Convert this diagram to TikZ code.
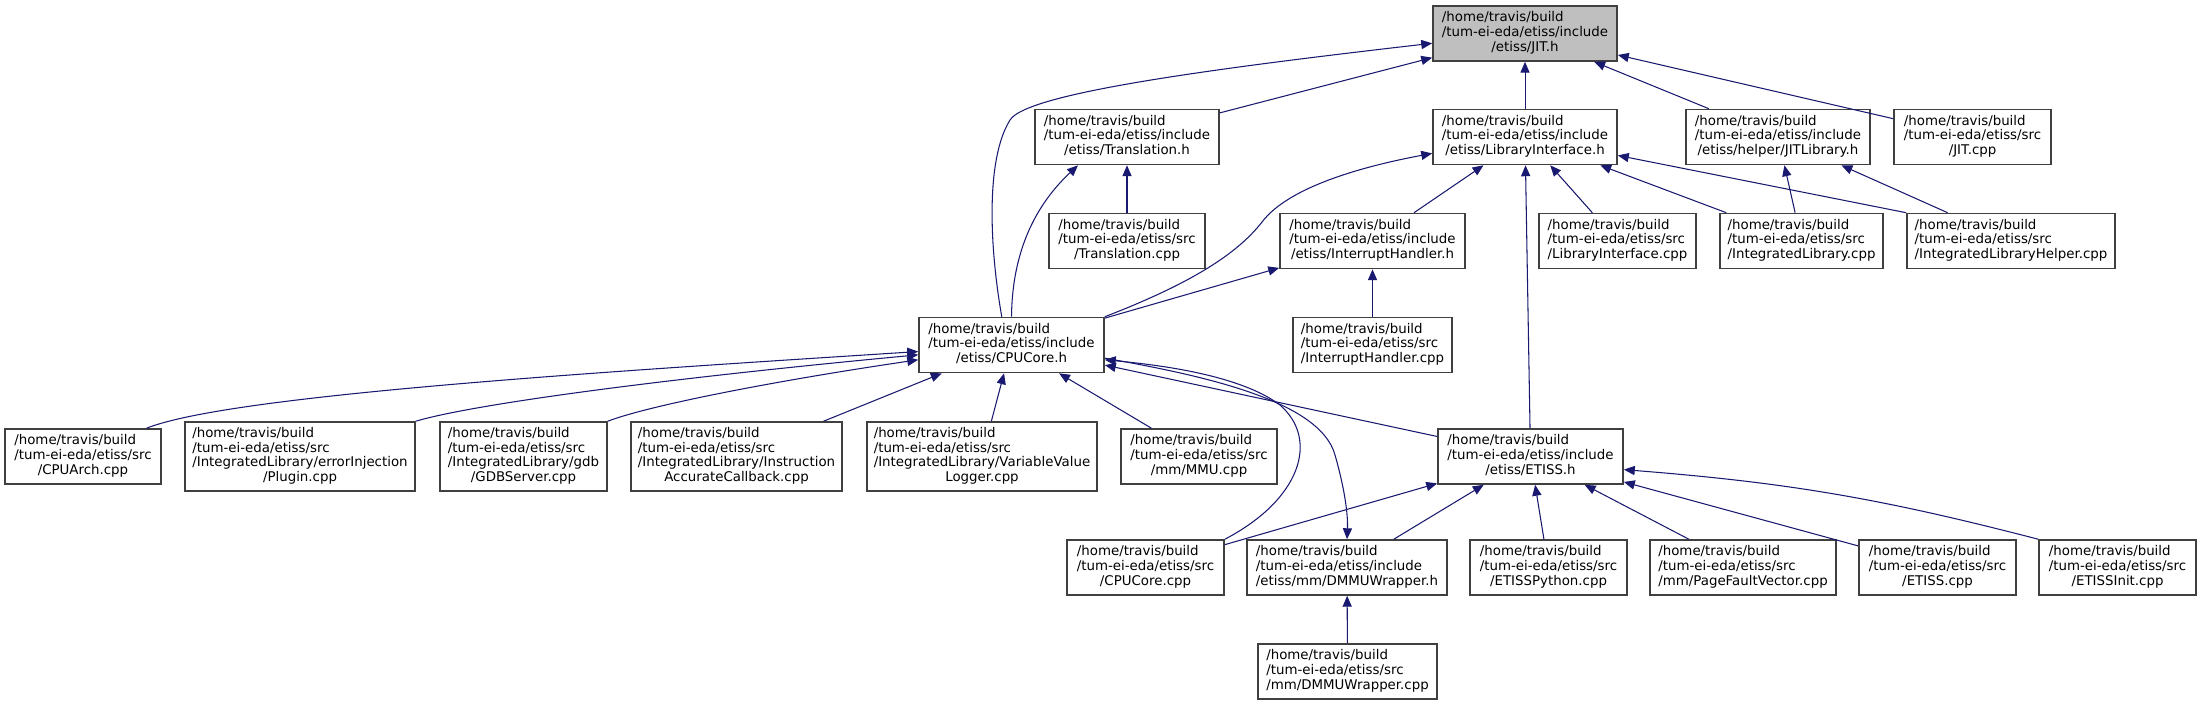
\documentclass[tikz,border=0pt]{standalone}
\usepackage{fontspec}
\setmainfont{DejaVu Sans}
\usepackage{tikz}
\usetikzlibrary{arrows.meta}
\definecolor{edgeBlue}{RGB}{25,25,112}
\definecolor{boxGray}{RGB}{64,64,64}
\definecolor{focusGray}{RGB}{191,191,191}
\newcommand{\fpath}[2]{\begin{tabular}{@{}l@{}}#1\\\multicolumn{1}{@{}c@{}}{#2}\end{tabular}}

\begin{document}
\begin{tikzpicture}[x=0.01cm, y=-0.01cm,
  file/.style={draw=boxGray, line width=0.45pt, fill=white, inner sep=0pt, minimum height=0.55cm, font=\fontsize{3.8}{4.2}\selectfont},
  tall/.style={minimum height=0.69cm},
  edge/.style={edgeBlue, line width=0.3pt, -{Triangle[length=3.1pt,width=2.6pt]}}]
\useasboundingbox (0,0) rectangle (2201,705);
\node[file, fill=focusGray, minimum width=1.84cm] (jit) at (1525,33.5) {\fpath{/home/travis/build\\/tum-ei-eda/etiss/include}{/etiss/JIT.h}};
\node[file, minimum width=1.84cm] (trh) at (1127,137) {\fpath{/home/travis/build\\/tum-ei-eda/etiss/include}{/etiss/Translation.h}};
\node[file, minimum width=1.84cm] (lih) at (1525,137) {\fpath{/home/travis/build\\/tum-ei-eda/etiss/include}{/etiss/LibraryInterface.h}};
\node[file, minimum width=1.84cm] (jitlib) at (1778,137) {\fpath{/home/travis/build\\/tum-ei-eda/etiss/include}{/etiss/helper/JITLibrary.h}};
\node[file, minimum width=1.57cm] (jitcpp) at (1972.5,137) {\fpath{/home/travis/build\\/tum-ei-eda/etiss/src}{/JIT.cpp}};
\node[file, minimum width=1.56cm] (trcpp) at (1127,241) {\fpath{/home/travis/build\\/tum-ei-eda/etiss/src}{/Translation.cpp}};
\node[file, minimum width=1.85cm] (ihh) at (1372.5,241) {\fpath{/home/travis/build\\/tum-ei-eda/etiss/include}{/etiss/InterruptHandler.h}};
\node[file, minimum width=1.57cm] (licpp) at (1617.5,241) {\fpath{/home/travis/build\\/tum-ei-eda/etiss/src}{/LibraryInterface.cpp}};
\node[file, minimum width=1.63cm] (ilcpp) at (1801.5,241) {\fpath{/home/travis/build\\/tum-ei-eda/etiss/src}{/IntegratedLibrary.cpp}};
\node[file, minimum width=2.08cm] (ilhcpp) at (2011,241) {\fpath{/home/travis/build\\/tum-ei-eda/etiss/src}{/IntegratedLibraryHelper.cpp}};
\node[file, minimum width=1.85cm] (cpuh) at (1011.5,345) {\fpath{/home/travis/build\\/tum-ei-eda/etiss/include}{/etiss/CPUCore.h}};
\node[file, minimum width=1.59cm] (ihcpp) at (1372.5,345) {\fpath{/home/travis/build\\/tum-ei-eda/etiss/src}{/InterruptHandler.cpp}};
\node[file, minimum width=1.56cm] (cpuarch) at (83,456.5) {\fpath{/home/travis/build\\/tum-ei-eda/etiss/src}{/CPUArch.cpp}};
\node[file, tall, minimum width=2.30cm] (plugin) at (300,456.5) {\fpath{/home/travis/build\\/tum-ei-eda/etiss/src\\/IntegratedLibrary/errorInjection}{/Plugin.cpp}};
\node[file, tall, minimum width=1.67cm] (gdb) at (523.5,456.5) {\fpath{/home/travis/build\\/tum-ei-eda/etiss/src\\/IntegratedLibrary/gdb}{/GDBServer.cpp}};
\node[file, tall, minimum width=2.11cm] (acc) at (736.5,456.5) {\fpath{/home/travis/build\\/tum-ei-eda/etiss/src\\/IntegratedLibrary/Instruction}{AccurateCallback.cpp}};
\node[file, tall, minimum width=2.30cm] (vvl) at (982,456.5) {\fpath{/home/travis/build\\/tum-ei-eda/etiss/src\\/IntegratedLibrary/VariableValue}{Logger.cpp}};
\node[file, minimum width=1.56cm] (mmu) at (1199,456.5) {\fpath{/home/travis/build\\/tum-ei-eda/etiss/src}{/mm/MMU.cpp}};
\node[file, minimum width=1.85cm] (etissh) at (1530.5,456.5) {\fpath{/home/travis/build\\/tum-ei-eda/etiss/include}{/etiss/ETISS.h}};
\node[file, minimum width=1.57cm] (cpucpp) at (1145.5,567.5) {\fpath{/home/travis/build\\/tum-ei-eda/etiss/src}{/CPUCore.cpp}};
\node[file, minimum width=2.00cm] (dmmuh) at (1347,567.5) {\fpath{/home/travis/build\\/tum-ei-eda/etiss/include}{/etiss/mm/DMMUWrapper.h}};
\node[file, minimum width=1.57cm] (pycpp) at (1548.5,567.5) {\fpath{/home/travis/build\\/tum-ei-eda/etiss/src}{/ETISSPython.cpp}};
\node[file, minimum width=1.86cm] (pfvcpp) at (1743,567.5) {\fpath{/home/travis/build\\/tum-ei-eda/etiss/src}{/mm/PageFaultVector.cpp}};
\node[file, minimum width=1.57cm] (etcpp) at (1937.5,567.5) {\fpath{/home/travis/build\\/tum-ei-eda/etiss/src}{/ETISS.cpp}};
\node[file, minimum width=1.57cm] (etinit) at (2117.5,567.5) {\fpath{/home/travis/build\\/tum-ei-eda/etiss/src}{/ETISSInit.cpp}};
\node[file, minimum width=1.79cm] (dmmucpp) at (1347.5,671.5) {\fpath{/home/travis/build\\/tum-ei-eda/etiss/src}{/mm/DMMUWrapper.cpp}};
\draw[edge] (trh) -- (jit);
\draw[edge] (lih) -- (jit);
\draw[edge] (jitlib) -- (jit);
\draw[edge] (jitcpp) -- (jit);
\draw[edge] (cpuh.109) .. controls (990,250) and (985,160) .. (1010,120) .. controls (1026,94) and (1200,70) .. (jit.186);
\draw[edge] (cpuh.north) .. controls (1012,260) and (1030,210) .. (trh.-150);
\draw[edge] (trcpp) -- (trh);
\draw[edge] (cpuh.north east) .. controls (1200,280) and (1240,250) .. (1262,222) .. controls (1290,185) and (1370,165) .. (lih.190);
\draw[edge] (ihh) -- (lih);
\draw[edge] (licpp) -- (lih);
\draw[edge] (ilcpp) -- (lih);
\draw[edge] (ilhcpp.north west) -- (lih);
\draw[edge] (etissh) -- (lih);
\draw[edge] (ilcpp) -- (jitlib);
\draw[edge] (ilhcpp) -- (jitlib);
\draw[edge] (cpuh) -- (ihh);
\draw[edge] (ihcpp) -- (ihh);
\draw[edge] (cpuarch.24) .. controls (230,395) and (600,372) .. (cpuh.184);
\draw[edge] (plugin.north east) .. controls (470,405) and (650,380) .. (cpuh.186);
\draw[edge] (gdb.north east) .. controls (650,405) and (780,380) .. (cpuh.189);
\draw[edge] (acc) -- (cpuh);
\draw[edge] (vvl) -- (cpuh);
\draw[edge] (mmu) -- (cpuh);
\draw[edge] (etissh) -- (cpuh);
\draw[edge] (cpucpp.north east) .. controls (1300,500) and (1320,440) .. (1280,405) .. controls (1240,375) and (1160,365) .. (cpuh.-9);
\draw[edge] (cpuh.-8) .. controls (1200,375) and (1320,400) .. (1335,455) .. controls (1345,490) and (1348,515) .. (dmmuh.north);
\draw[edge] (cpucpp) -- (etissh);
\draw[edge] (dmmuh) -- (etissh);
\draw[edge] (pycpp) -- (etissh);
\draw[edge] (pfvcpp) -- (etissh);
\draw[edge] (etcpp) -- (etissh);
\draw[edge] (etinit.north west) to[bend right=5] (etissh.-8);
\draw[edge] (dmmucpp) -- (dmmuh);
\end{tikzpicture}
\end{document}
